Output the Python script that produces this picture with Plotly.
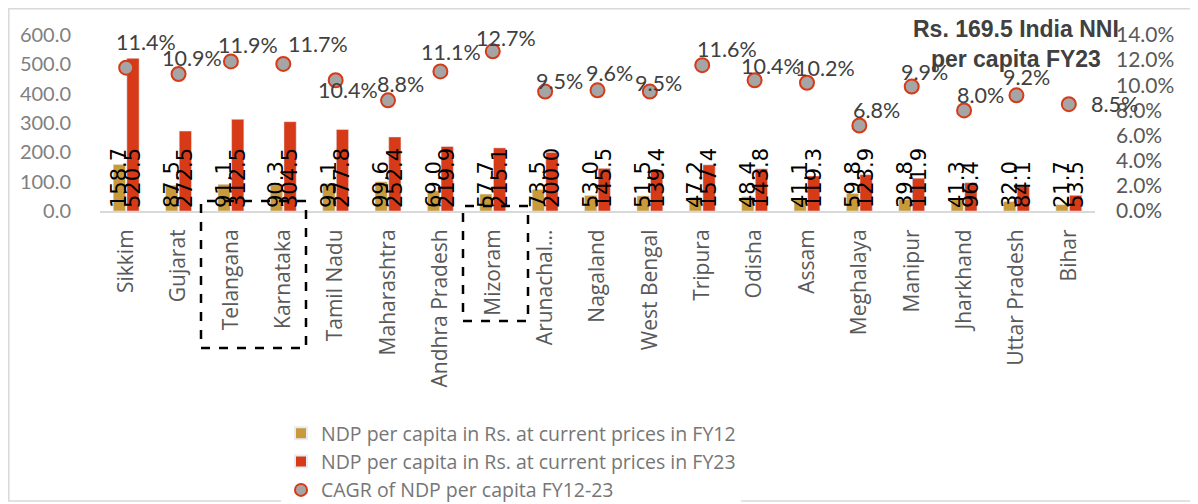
import plotly.graph_objects as go

states = ["Sikkim", "Gujarat", "Telangana", "Karnataka", "Tamil Nadu", "Maharashtra",
          "Andhra Pradesh", "Mizoram", "Arunachal Pradesh", "Nagaland", "West Bengal",
          "Tripura", "Odisha", "Assam", "Meghalaya", "Manipur", "Jharkhand",
          "Uttar Pradesh", "Bihar"]
tick_labels = ["Sikkim", "Gujarat", "Telangana", "Karnataka", "Tamil Nadu", "Maharashtra",
               "Andhra Pradesh", "Mizoram", "Arunachal...", "Nagaland", "West Bengal",
               "Tripura", "Odisha", "Assam", "Meghalaya", "Manipur", "Jharkhand",
               "Uttar Pradesh", "Bihar"]
ndp_fy12 = [158.7, 87.5, 91.1, 90.3, 93.1, 99.6, 69.0, 57.7, 73.5, 53.0, 51.5,
            47.2, 48.4, 41.1, 59.8, 39.8, 41.3, 32.0, 21.7]
ndp_fy23 = [520.5, 272.5, 312.5, 304.5, 277.8, 252.4, 219.9, 215.1, 200.0, 145.5, 139.4,
            157.4, 143.8, 119.3, 123.9, 111.9, 96.4, 84.1, 53.5]
cagr_pct = [11.4, 10.9, 11.9, 11.7, 10.4, 8.8, 11.1, 12.7, 9.5, 9.6, 9.5,
            11.6, 10.4, 10.2, 6.8, 9.9, 8.0, 9.2, 8.5]
# label offsets (pixels) of each CAGR label relative to its marker
label_dx = [20, 13, 17, 35, 12, 12, 11, 13, 14, 12, 9, 25, 16, 18, 17, 13, 16, 10, 46]
label_dy = [26, 16, 16, 20, -10, 16, 19, 13, 11, 17, 9, 16, 14, 15, 16, 15, 15, 18, 0]

GOLD = "#C89A3A"
RED = "#D63A17"

bar_font = dict(family="DejaVu Sans", size=21, color="#000000")

fig = go.Figure()
fig.add_trace(go.Bar(
    x=states, y=ndp_fy12, name="NDP per capita in Rs. at current prices in FY12",
    marker=dict(color=GOLD), text=[f"{v:.1f}" for v in ndp_fy12],
    textposition="inside", insidetextanchor="start", textangle=-90,
    constraintext="none", textfont=bar_font, cliponaxis=False,
))
fig.add_trace(go.Bar(
    x=states, y=ndp_fy23, name="NDP per capita in Rs. at current prices in FY23",
    marker=dict(color=RED), text=[f"{v:.1f}" for v in ndp_fy23],
    textposition="inside", insidetextanchor="start", textangle=-90,
    constraintext="none", textfont=bar_font, cliponaxis=False,
))
fig.add_trace(go.Scatter(
    x=states, y=[v / 100 for v in cagr_pct], yaxis="y2", mode="markers",
    name="CAGR of NDP per capita FY12-23",
    marker=dict(size=14, color="#A5A5A5", line=dict(color=RED, width=2)),
    cliponaxis=False,
))

# page has an 8px body margin; work in reference-screen coordinates
OFF = 8
W, H = 1198 - OFF, 504 - OFF
L, T = 100 - OFF, 35 - OFF
R = W - (1095 - OFF)
B = H - (211 - OFF)
pw, ph = W - L - R, H - T - B

def px(x):
    return (x - OFF - L) / pw

def py(y):
    return (H - B - (y - OFF)) / ph

shapes = [
    dict(type="rect", xref="paper", yref="paper", x0=px(8.8), x1=px(1193), y0=py(501), y1=py(8.8),
         line=dict(color="#D9D9D9", width=1.5)),
    dict(type="rect", xref="paper", yref="paper", x0=px(201), x1=px(306), y0=py(348), y1=py(201),
         line=dict(color="#000000", width=2.5, dash="dash")),
    dict(type="rect", xref="paper", yref="paper", x0=px(463), x1=px(528), y0=py(321), y1=py(206),
         line=dict(color="#000000", width=2.5, dash="dash")),
]

annotations = [
    dict(x=s, y=v / 100, xref="x", yref="y2", text=f"{v:.1f}%", showarrow=False,
         xshift=dx, yshift=dy, font=dict(family="Lato", size=21.5, color="#404040"))
    for s, v, dx, dy in zip(states, cagr_pct, label_dx, label_dy)
]
annotations.append(dict(x=px(1016), y=py(44), xref="paper", yref="paper",
                        xanchor="center", yanchor="middle",
                        text="Rs. 169.5 India NNI<br>per capita FY23", showarrow=False,
                        font=dict(family="Liberation Sans", size=23, color="#404040",
                                  weight="bold"),
                        align="center"))

fig.update_layout(
    width=W, height=H, margin=dict(l=L, r=R, t=T, b=B, autoexpand=False),
    paper_bgcolor="white", plot_bgcolor="white",
    barmode="group", bargap=0.48, bargroupgap=0.1,
    font=dict(family="Open Sans", color="#595959"),
    xaxis=dict(tickmode="array", tickvals=states, ticktext=tick_labels, tickangle=-90,
               range=[-0.5, len(states) - 0.5],
               tickfont=dict(family="Open Sans", size=21, color="#595959"),
               showline=True, linecolor="#D9D9D9", linewidth=2, ticks="", showgrid=False,
               ticklabelstandoff=8, automargin=False),
    yaxis=dict(range=[0, 600], dtick=100, tickformat=".1f", showgrid=False, zeroline=False,
               tickfont=dict(family="Lato", size=20, color="#808080"), ticklabelstandoff=28,
               automargin=False),
    yaxis2=dict(range=[0, 0.14], dtick=0.02, tickformat=".1%", overlaying="y", side="right",
                showgrid=False, zeroline=False, automargin=False,
                tickfont=dict(family="Lato", size=21, color="#595959"), ticklabelstandoff=20),
    legend=dict(x=px(281), y=py(414), xanchor="left", yanchor="top",
                font=dict(family="Open Sans", size=19.5, color="#767676"),
                tracegroupgap=0, itemsizing="constant"),
    shapes=shapes,
    annotations=annotations,
)

fig.write_html("out.html")
